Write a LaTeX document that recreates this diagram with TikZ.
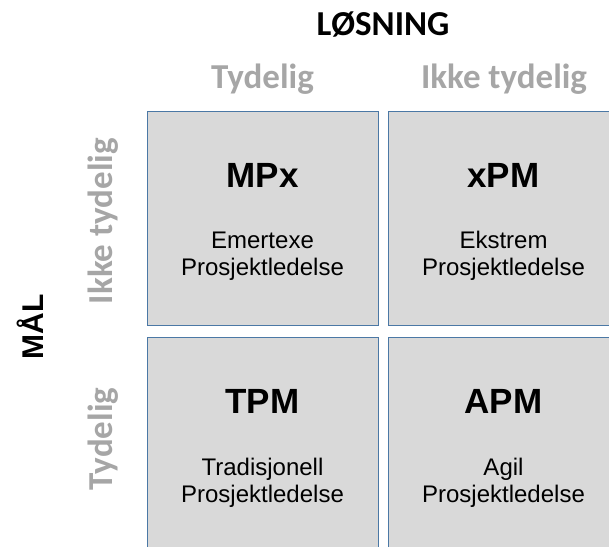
\documentclass[tikz,border=0pt]{standalone}
\usepackage{fontspec}
\newfontfamily\carlito{Carlito}
\newfontfamily\arialf{Liberation Sans}
\definecolor{boxfill}{RGB}{217,217,217}
\definecolor{boxline}{RGB}{75,120,165}
\definecolor{labgray}{RGB}{166,166,166}
\begin{document}
\begin{tikzpicture}[x=1pt,y=-1pt,
  quad/.style={draw=boxline,fill=boxfill,line width=1pt,minimum width=231pt,minimum height=214pt,inner sep=0pt,anchor=north west},
  head/.style={anchor=base,inner sep=0pt,font=\carlito\bfseries\fontsize{35}{40}\selectfont,text=black},
  axlab/.style={anchor=base,inner sep=0pt,font=\carlito\bfseries\fontsize{35}{40}\selectfont,text=labgray},
  abbr/.style={anchor=base,inner sep=0pt,font=\arialf\bfseries\fontsize{35}{40}\selectfont,text=black},
  desc/.style={anchor=base,inner sep=0pt,align=center,font=\arialf\fontsize{24}{27}\selectfont,text=black},
  maal/.style={anchor=base,inner sep=0pt,rotate=90,font=\arialf\bfseries\fontsize{30}{34}\selectfont,text=black}]
\useasboundingbox (0,0) rectangle (609,546);
\clip (0,0) rectangle (609,546);
% boxes
\node[quad] (q11) at (147,111) {};
\node[quad] (q12) at (388,111) {};
\node[quad] (q21) at (147,337) {};
\node[quad] (q22) at (388,337) {};
% headings
\node[head] (losning) at (383,35) {LØSNING};
\node[axlab] (ctyd) at (262.5,88) {Tydelig};
\node[axlab] (cikke) at (504,88) {Ikke tydelig};
\node[axlab,rotate=90] (rikke) at (112,221) {Ikke tydelig};
\node[axlab,rotate=90] (rtyd) at (112,439) {Tydelig};
\node[maal] (maal) at (43,327) {MÅL};
% box contents (base = last line)
\node[abbr] (a11) at (262.5,187) {MPx};
\node[desc] (d11) at (262.5,275) {Emertexe\\Prosjektledelse};
\node[abbr] (a12) at (503.5,187) {xPM};
\node[desc] (d12) at (503.5,275) {Ekstrem\\Prosjektledelse};
\node[abbr] (a21) at (262.5,413) {TPM};
\node[desc] (d21) at (262.5,502) {Tradisjonell\\Prosjektledelse};
\node[abbr] (a22) at (503.5,413) {APM};
\node[desc] (d22) at (503.5,502) {Agil\\Prosjektledelse};
\end{tikzpicture}
\end{document}
